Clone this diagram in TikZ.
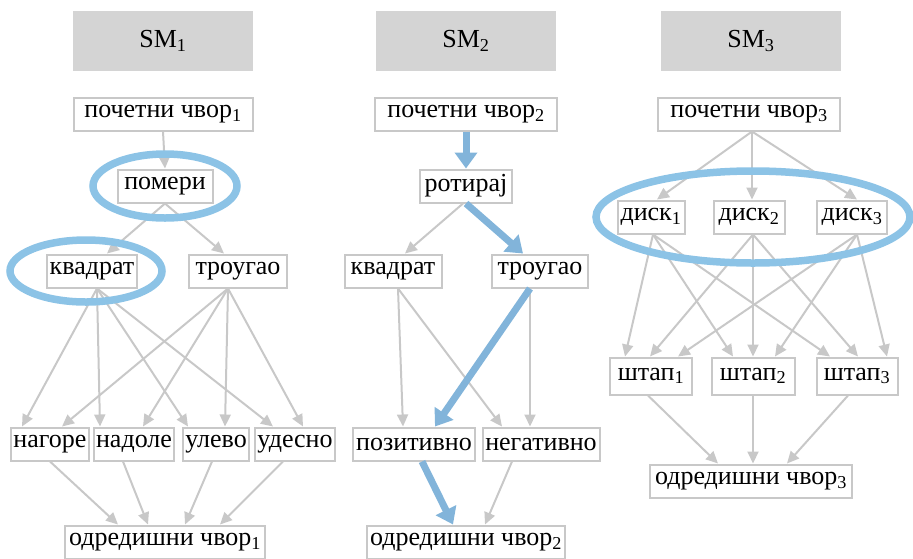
\documentclass[tikz,border=0pt]{standalone}
\usepackage{fontspec}
\setmainfont{Liberation Serif}
\usetikzlibrary{arrows.meta}
\definecolor{linija}{RGB}{200,200,200}
\definecolor{zaglavlje}{RGB}{212,212,212}
\definecolor{plava}{RGB}{140,195,230}
\definecolor{putanja}{RGB}{130,180,218}
\tikzset{
  cvor/.style={draw=linija,line width=2pt,fill=white,inner xsep=2.5pt,inner ysep=0pt,
    minimum height=33pt,font=\fontsize{26}{30}\selectfont},
  sm/.style={fill=zaglavlje,minimum width=180pt,minimum height=60pt,
    font=\fontsize{26}{30}\selectfont},
  veza/.style={draw=linija,line width=2pt,-{Triangle[length=12pt,width=11pt]}},
  put/.style={draw=putanja,line width=7pt,-{Triangle[length=16pt,width=22pt]}},
  izbor/.style={draw=plava,line width=7.5pt},
}

\begin{document}
\begin{tikzpicture}[x=1pt,y=-1pt]
  \useasboundingbox (0,0) rectangle (913,558);
  % zaglavlja
  \node[sm] (sm1) at (163,41) {SM\textsubscript{1}};
  \node[sm] (sm2) at (466,41) {SM\textsubscript{2}};
  \node[sm] (sm3) at (751,41) {SM\textsubscript{3}};

  % SM1
  \node[cvor,minimum width=179pt] (p1) at (163,114) {почетни чвор\textsubscript{1}};
  \node[cvor,minimum width=95pt] (pom) at (165,186) {помери};
  \node[cvor,minimum width=90pt] (kv1) at (92,271) {квадрат};
  \node[cvor,minimum width=98pt] (tr1) at (238,271) {троугао};
  \node[cvor] (ng) at (50,444) {нагоре};
  \node[cvor] (nd) at (134,444) {надоле};
  \node[cvor] (ul) at (216,444) {улево};
  \node[cvor] (ud) at (295,444) {удесно};
  \node[cvor,minimum width=200pt] (od1) at (165,542) {одредишни чвор\textsubscript{1}};
  \draw[veza] (p1.south) -- (pom.north);
  \draw[veza] (pom.south) -- ([xshift=15pt]kv1.north);
  \draw[veza] (pom.south) -- ([xshift=-14pt]tr1.north);
  \foreach \ci/\dx in {ng/-28,nd/-34,ul/-28,ud/-22} {
    \draw[veza] ([xshift=5pt]kv1.south) -- ([xshift=\dx pt]\ci.north);
  }
  \foreach \ci/\dx in {ng/12,nd/9,ul/9,ud/8} {
    \draw[veza] ([xshift=-10pt]tr1.south) -- ([xshift=\dx pt]\ci.north);
  }
  \foreach \ci/\sx/\dx in {ng/0/-47,nd/-11/-17,ul/-4/20,ud/-12/55} {
    \draw[veza] ([xshift=\sx pt]\ci.south) -- ([xshift=\dx pt]od1.north);
  }

  % SM2
  \node[cvor,minimum width=182pt] (p2) at (466,114) {почетни чвор\textsubscript{2}};
  \node[cvor,minimum width=92pt] (rot) at (466,186) {ротирај};
  \node[cvor,minimum width=97pt] (kv2) at (393,271) {квадрат};
  \node[cvor,minimum width=96pt] (tr2) at (540,271) {троугао};
  \node[cvor,minimum width=122pt] (poz) at (414,444) {позитивно};
  \node[cvor,minimum width=117pt] (neg) at (541,444) {негативно};
  \node[cvor,minimum width=198pt] (od2) at (466,542) {одредишни чвор\textsubscript{2}};
  \draw[veza] ([xshift=-3pt]rot.south) -- ([xshift=12pt]kv2.north);
  \draw[veza] ([xshift=5pt]kv2.south) -- ([xshift=-11pt]poz.north);
  \draw[veza] ([xshift=5pt]kv2.south) -- ([xshift=-39pt]neg.north);
  \draw[veza] ([xshift=-10pt]tr2.south) -- ([xshift=-11pt]neg.north);
  \draw[veza] ([xshift=-29pt]neg.south) -- ([xshift=19pt]od2.north);
  \draw[put] (p2.south) -- (rot.north);
  \draw[put] (rot.south) -- ([xshift=-17pt]tr2.north);
  \draw[put] ([xshift=-10pt]tr2.south) -- ([xshift=21pt]poz.north);
  \draw[put] ([xshift=8pt]poz.south) -- ([xshift=-13pt]od2.north);

  % SM3
  \node[cvor,minimum width=182pt] (p3) at (749,114) {почетни чвор\textsubscript{3}};
  \node[cvor,minimum width=67pt] (d1) at (651,217) {диск\textsubscript{1}};
  \node[cvor,minimum width=71pt] (d2) at (749,217) {диск\textsubscript{2}};
  \node[cvor,minimum width=70pt] (d3) at (852,217) {диск\textsubscript{3}};
  \node[cvor,minimum width=82pt,minimum height=37pt] (s1) at (651,376) {штап\textsubscript{1}};
  \node[cvor,minimum width=83pt,minimum height=37pt] (s2) at (753,376) {штап\textsubscript{2}};
  \node[cvor,minimum width=81pt,minimum height=37pt] (s3) at (857,376) {штап\textsubscript{3}};
  \node[cvor,minimum width=202pt] (od3) at (751,481) {одредишни чвор\textsubscript{3}};
  \foreach \ci/\dx in {d1/6,d2/3,d3/5} {
    \draw[veza] ([xshift=3pt]p3.south) -- ([xshift=\dx pt]\ci.north);
  }
  \foreach \ci/\dx in {s1/-26,s2/-20,s3/-27} {
    \draw[veza] ([xshift=2pt]d1.south) -- ([xshift=\dx pt]\ci.north);
  }
  \foreach \ci/\dx in {s1/-1,s2/0,s3/1} {
    \draw[veza] ([xshift=4pt]d2.south) -- ([xshift=\dx pt]\ci.north);
  }
  \foreach \ci/\dx in {s1/27,s2/22,s3/30} {
    \draw[veza] ([xshift=5pt]d3.south) -- ([xshift=\dx pt]\ci.north);
  }
  \foreach \ci/\sx/\dx in {s1/-3/-33,s2/0/2,s3/-9/36} {
    \draw[veza] ([xshift=\sx pt]\ci.south) -- ([xshift=\dx pt]od3.north);
  }

  % oznaceni cvorovi
  \draw[izbor] (pom) ellipse [x radius=72pt,y radius=32pt];
  \draw[izbor] ([xshift=-6pt]kv1.center) ellipse [x radius=76pt,y radius=31pt];
  \draw[izbor] ([xshift=4pt]d2.center) ellipse [x radius=157pt,y radius=46pt];
\end{tikzpicture}
\end{document}
